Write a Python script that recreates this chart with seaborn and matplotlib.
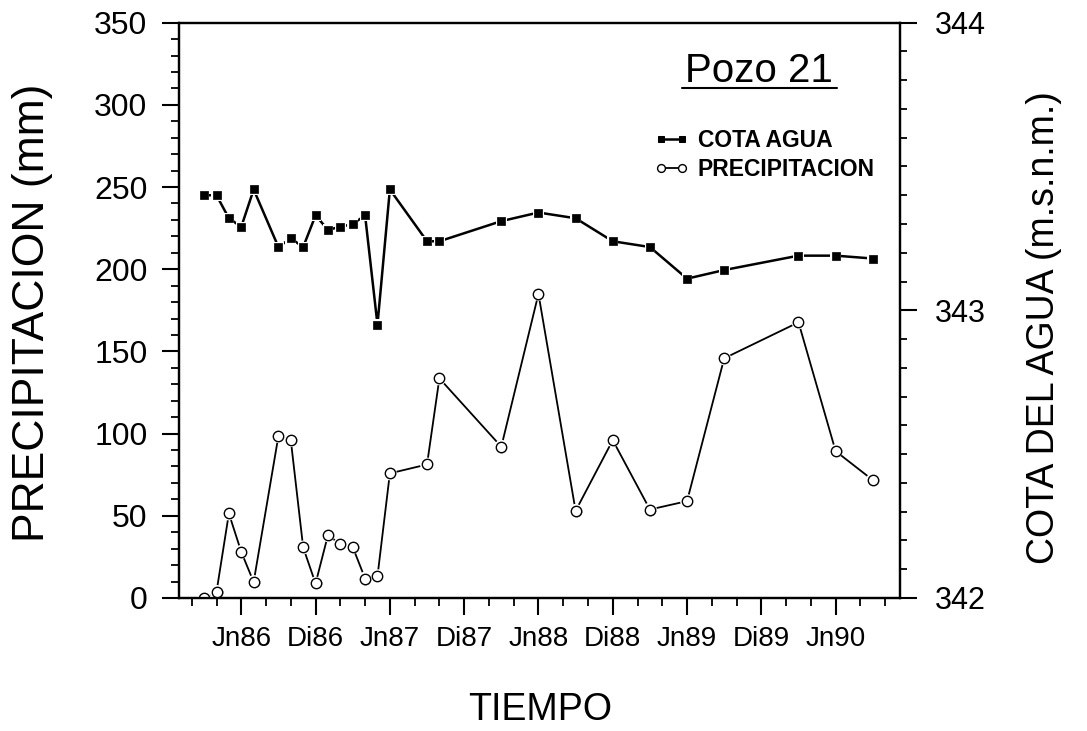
import numpy as np
import pandas as pd
import matplotlib
matplotlib.use("Agg")
import matplotlib.pyplot as plt
import seaborn as sns
from matplotlib.ticker import MultipleLocator, FixedLocator

# months counted from Jan 1986 (0 = Ene86)
months = [2, 3, 4, 5, 6, 8, 9, 10, 11, 12, 13, 14, 15, 16, 17,
          20, 21, 26, 29, 32, 35, 38, 41, 44, 50, 53, 56]
cota = [343.40, 343.40, 343.32, 343.29, 343.42, 343.22, 343.25, 343.22,
        343.33, 343.28, 343.29, 343.30, 343.33, 342.95, 343.42, 343.24,
        343.24, 343.31, 343.34, 343.32, 343.24, 343.22, 343.11, 343.14,
        343.19, 343.19, 343.18]
precip = [0, 3.7, 51.4, 28, 9.7, 98.5, 96, 30.7, 8.8, 38.2, 32.7, 31, 11.8,
          13.2, 75.8, 81.2, 133.6, 92, 185, 53, 96, 53.8, 58.9, 145.8,
          167.7, 89.3, 71.7]
tick_months = [5, 11, 17, 23, 29, 35, 41, 47, 53]
tick_labels = ["Jn86", "Di86", "Jn87", "Di87", "Jn88", "Di88", "Jn89", "Di89", "Jn90"]

df = pd.DataFrame({"mes": months, "cota": cota, "precip": precip})

sns.set_style("ticks", {"axes.edgecolor": "black", "xtick.color": "black",
                        "ytick.color": "black", "text.color": "black",
                        "axes.labelcolor": "black"})
plt.rcParams['font.family'] = ['Liberation Sans', 'DejaVu Sans']

fig = plt.figure(figsize=(10.87, 7.31), dpi=100)
ax = fig.add_axes([0.165, 0.182, 0.663, 0.787])
ax2 = ax.twinx()

# precipitation: line, white halo (gap round the markers), open circles
sns.lineplot(data=df, x="mes", y="precip", ax=ax, color="black", lw=1.3,
             marker="o", markersize=7.5, markerfacecolor="white",
             markeredgecolor="black", markeredgewidth=1.0,
             label="PRECIPITACION", legend=False, zorder=2)
sns.scatterplot(data=df, x="mes", y="precip", ax=ax, marker="o", s=100,
                color="white", edgecolor="none", zorder=3, legend=False)
sns.scatterplot(data=df, x="mes", y="precip", ax=ax, marker="o", s=56,
                color="white", edgecolor="black", linewidth=1.0, zorder=4,
                legend=False)

# water level: line, halo, filled squares
sns.lineplot(data=df, x="mes", y="cota", ax=ax2, color="black", lw=1.8,
             marker="s", markersize=5.5, markerfacecolor="black",
             markeredgecolor="black", label="COTA AGUA", legend=False, zorder=2)
sns.scatterplot(data=df, x="mes", y="cota", ax=ax2, marker="s", s=60,
                color="white", edgecolor="none", zorder=3, legend=False)
sns.scatterplot(data=df, x="mes", y="cota", ax=ax2, marker="s", s=32,
                color="black", edgecolor="black", linewidth=0.5, zorder=4,
                legend=False)

ax.set_xlim(0, 58.2)
ax.set_ylim(0, 350)
ax2.set_ylim(342, 344)

ax.xaxis.set_major_locator(FixedLocator(tick_months))
ax.set_xticklabels(tick_labels)
ax.xaxis.set_minor_locator(FixedLocator(np.arange(1, 58, 2)))
ax.yaxis.set_major_locator(MultipleLocator(50))
ax.yaxis.set_minor_locator(MultipleLocator(10))
ax2.yaxis.set_major_locator(MultipleLocator(1))
ax2.yaxis.set_minor_locator(MultipleLocator(0.1))

ax.tick_params(axis="x", which="major", length=12, width=1.5, labelsize=20, pad=8.5)
ax.tick_params(axis="x", which="minor", length=6, width=1.3)
ax.tick_params(axis="y", which="major", length=12, width=1.5, labelsize=23, pad=11)
ax.tick_params(axis="y", which="minor", length=6, width=1.3)
ax2.tick_params(axis="y", which="major", length=12, width=1.5, labelsize=22, pad=13)
ax2.tick_params(axis="y", which="minor", length=5, width=1.3)

for a in (ax, ax2):
    for sp in a.spines.values():
        sp.set_linewidth(1.6)

ax.set_xlabel("TIEMPO", fontsize=27)
ax.xaxis.set_label_coords(0.5, -0.163)
ax.set_ylabel("PRECIPITACION (mm)", fontsize=32)
ax.yaxis.set_label_coords(-0.176, 0.496)
ax2.set_ylabel("COTA DEL AGUA (m.s.n.m.)", fontsize=27)
ax2.yaxis.set_label_coords(1.175, 0.47)

fig.text(759 / 1087, 1 - 81.7 / 731, "Pozo 21", ha="center", va="baseline", fontsize=29)
fig.add_artist(plt.Line2D([681.7 / 1087, 836.7 / 1087], [1 - 88.3 / 731] * 2,
                          color="black", lw=1.5))

handles = [ax2.lines[0], ax.lines[0]]
ax2.legend(handles, ["COTA AGUA", "PRECIPITACION"], loc="upper left",
           bbox_to_anchor=(654 / 1087, 1 - 129 / 731), bbox_transform=fig.transFigure,
           frameon=False, prop={"size": 16.5, "weight": "bold"}, handlelength=1.5,
           handletextpad=0.4, labelspacing=0.28, borderpad=0, borderaxespad=0,
           numpoints=2, markerscale=0.75)

fig.savefig("out.png", dpi=100)
